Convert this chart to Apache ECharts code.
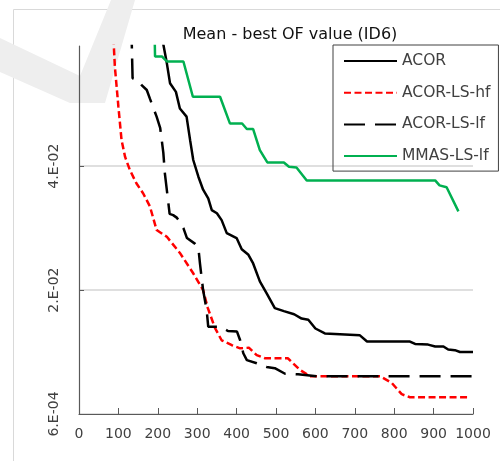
<!DOCTYPE html>
<html>
<head>
<meta charset="utf-8">
<script src="https://cdn.jsdelivr.net/npm/echarts@6/dist/echarts.min.js"></script>
<style>
html,body{margin:0;padding:0;background:#fff;}
#chart{width:500px;height:461px;}
</style>
</head>
<body>
<div id="chart"></div>
<script>
// ---- data (iteration, mean best OF value) ----
const titleText = 'Mean - best OF value (ID6)';
const seriesNames = ['ACOR', 'ACOR-LS-hf', 'ACOR-LS-lf', 'MMAS-LS-lf'];

const acor = [
  [206,0.063],[223,0.0572],[231,0.0540],[246,0.0526],[256,0.0499],[273,0.0486],[282,0.0448],
  [290,0.0416],[303,0.0389],[315,0.0368],[328,0.0354],[337,0.0335],[350,0.0330],[362,0.0319],
  [375,0.0298],[400,0.0290],[413,0.0272],[430,0.0263],[442,0.0249],[459,0.0220],[476,0.0201],
  [497,0.0177],[520,0.0172],[546,0.0167],[565,0.0160],[582,0.0158],[600,0.0144],[624,0.0136],
  [713,0.0133],[731,0.0123],[840,0.0123],[853,0.0119],[886,0.0118],[904,0.0115],[925,0.0115],
  [937,0.0110],[954,0.0109],[967,0.0106],[1000,0.0106]
];
const acorLShf = [
  [86,0.063],[91,0.0567],[100,0.0502],[108,0.0448],[117,0.0421],[129,0.0400],[146,0.0378],
  [163,0.0362],[180,0.0341],[197,0.0303],[223,0.0292],[256,0.0266],[289,0.0234],[315,0.0206],
  [327,0.0177],[345,0.0145],[362,0.0125],[388,0.0117],[409,0.0112],[431,0.0113],[451,0.0101],
  [472,0.0096],[530,0.0096],[561,0.0077],[586,0.0067],[764,0.0067],[794,0.0056],[819,0.0038],
  [840,0.0033],[985,0.0033]
];
const acorLSlf = [
  [133,0.063],[136,0.0548],[150,0.0545],[159,0.0537],[172,0.0529],[180,0.0515],[197,0.0486],
  [206,0.0468],[214,0.0428],[218,0.0394],[226,0.0351],[230,0.0329],[239,0.0327],[248,0.0323],
  [256,0.0316],[265,0.0306],[274,0.0290],[294,0.0281],[303,0.0274],[307,0.0249],[315,0.0206],
  [324,0.0174],[328,0.0147],[358,0.0147],[378,0.0140],[401,0.0139],[409,0.0125],[417,0.0104],
  [426,0.0093],[451,0.0088],[476,0.0082],[497,0.0080],[523,0.0071],[556,0.0070],[603,0.0067],
  [1000,0.0067]
];
const mmasLSlf = [
  [191,0.065],[193,0.0583],[211,0.0583],[223,0.0575],[265,0.0575],[289,0.0518],[358,0.0518],
  [383,0.0475],[414,0.0475],[426,0.0466],[442,0.0466],[459,0.0432],[478,0.0412],[520,0.0412],
  [533,0.0405],[552,0.0404],[578,0.0383],[904,0.0383],[915,0.0375],[933,0.0372],[963,0.0333]
];

const yTickValues = [0.0006, 0.0206, 0.0406];
const yTickLabels = ['6.E-04', '2.E-02', '4.E-02'];

// ---- chart ----
const chart = echarts.init(document.getElementById('chart'), null, {renderer: 'canvas'});
const axisColor = '#595959';
const textColor = '#404040';
const font = 'DejaVu Sans';

function mkSeries(name, data, color, type) {
  return {
    name: name, type: 'line', data: data, showSymbol: false, symbol: 'none',
    clip: true, animation: false,
    lineStyle: {color: color, width: 2.5, type: type},
    itemStyle: {color: color}
  };
}

chart.setOption({
  animation: false,
  title: {
    text: titleText, left: 285, top: 22, textAlign: 'center',
    textStyle: {fontFamily: font, fontSize: 16, fontWeight: 'normal', color: '#111'}
  },
  graphic: [
    {type: 'rect', z: -20, silent: true, shape: {x: 13.5, y: 9.5, width: 520, height: 480},
     style: {fill: 'none', stroke: '#d9d9d9', lineWidth: 1}},
    {type: 'polygon', z: -20, silent: true,
     shape: {points: [[0,38],[80,76],[111,0],[135,0],[105,103],[70,103],[0,72]]},
     style: {fill: '#eeeeee'}}
  ],
  legend: {
    orient: 'vertical', left: 333, top: 45,
    padding: [8, 8, 7, 10], itemGap: 15.7, itemWidth: 53, itemHeight: 16,
    borderColor: '#404040', borderWidth: 1,
    itemStyle: {opacity: 0},
    textStyle: {fontFamily: font, fontSize: 15.5, color: textColor, lineHeight: 16},
    data: seriesNames
  },
  grid: {left: 79, top: 46, right: 27, bottom: 47, containLabel: false},
  xAxis: {
    type: 'value', min: 0, max: 1000, interval: 100,
    axisLine: {lineStyle: {color: axisColor, width: 1.2}},
    axisTick: {inside: true, length: 6, lineStyle: {color: axisColor}},
    axisLabel: {fontFamily: font, fontSize: 14, color: textColor, margin: 13,
      formatter: function (v) { return String(v); }},
    splitLine: {show: false}
  },
  yAxis: {
    type: 'value', min: 0.0006, max: 0.06,
    axisLine: {show: true, lineStyle: {color: axisColor, width: 1.2}},
    axisTick: {show: true, inside: true, length: 5, customValues: yTickValues, lineStyle: {color: axisColor}},
    axisLabel: {
      fontFamily: font, fontSize: 14, color: textColor, rotate: 90, margin: 18,
      customValues: yTickValues,
      formatter: function (v) {
        for (let i = 0; i < yTickValues.length; i++) {
          if (Math.abs(v - yTickValues[i]) < 1e-9) return yTickLabels[i];
        }
        return '';
      }
    },
    splitLine: {show: true, lineStyle: {color: '#d4d4d4', width: 1.5}}
  },
  series: [
    mkSeries(seriesNames[0], acor, '#000000', 'solid'),
    mkSeries(seriesNames[1], acorLShf, '#ff0000', [7, 3.5]),
    mkSeries(seriesNames[2], acorLSlf, '#000000', [21, 10]),
    mkSeries(seriesNames[3], mmasLSlf, '#00b050', 'solid')
  ]
});
</script>
</body>
</html>
